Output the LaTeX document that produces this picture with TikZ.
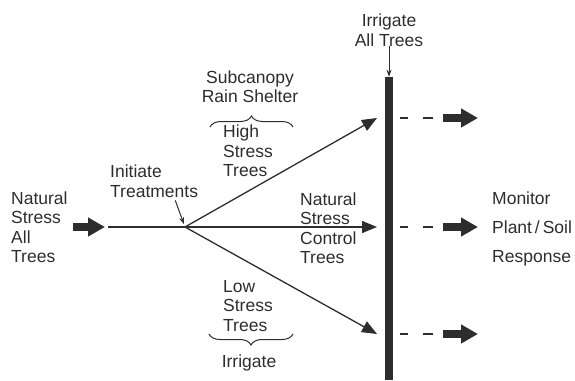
\documentclass[tikz,border=0pt]{standalone}
\usepackage{fontspec}
\setmainfont{Liberation Sans}
\usetikzlibrary{arrows.meta,decorations.pathreplacing}
\definecolor{ink}{RGB}{45,45,45}
\tikzset{
    txt/.style={inner sep=0pt, align=left, text=ink, font=\fontsize{17.5}{19.5}\selectfont},
    fat/.style={ink, line width=7.5pt, -{Triangle[length=17pt,width=18pt]}},
    ray/.style={ink, line width=1.3pt, -{Triangle[length=15pt,width=12pt]}},
    pointer/.style={ink, line width=1pt, -{Stealth[length=7pt,width=5pt]}},
    curly/.style={ink, line width=1pt, decorate, decoration={brace, amplitude=11pt}},
    dashes/.style={ink, line width=2pt, dash pattern=on 8pt off 15pt on 10pt off 10pt}
}

\begin{document}
\begin{tikzpicture}[x=1pt, y=-1pt]
    \useasboundingbox (0,0) rectangle (575,380);

    % text blocks
    \node[txt, anchor=west] (natural) at (11,227) {Natural\\Stress\\All\\Trees};
    \node[txt, anchor=west] (initiate) at (110,181) {Initiate\\Treatments};
    \node[txt, align=center] (shelter) at (250,86.5) {Subcanopy\\Rain Shelter};
    \node[txt, anchor=west] (high) at (223,151) {High\\Stress\\Trees};
    \node[txt, anchor=west] (control) at (300,228) {Natural\\Stress\\Control\\Trees};
    \node[txt, anchor=west] (low) at (223,306) {Low\\Stress\\Trees};
    \node[txt] (irrigate) at (249,363) {Irrigate};
    \node[txt, align=center] (irrall) at (389,30) {Irrigate\\All Trees};
    \node[txt, anchor=west] (monitor) at (492,229) {Monitor\\[9.5pt]Plant\,/\,Soil\\[9.5pt]Response};

    % irrigation bar
    \node[fill=ink, inner sep=0pt, minimum width=8pt, minimum height=303pt] (bar) at (389,228.5) {};

    \coordinate (stem) at (108,227);
    \coordinate (fan) at (185,227);
    \coordinate (hi) at (377,118);
    \coordinate (mid) at (377,227);
    \coordinate (lo) at (377,334);

    % treatments
    \draw[fat] ([xshift=5pt]natural.east) -- ([xshift=-3pt]stem);
    \draw[ink, line width=1.3pt] (stem) -- (fan);
    \draw[ray] (fan) -- (hi);
    \draw[ray] (fan) -- (mid);
    \draw[ray] (fan) -- (lo);
    \draw[pointer, shorten >=3pt] ([xshift=-23pt,yshift=-3pt]initiate.south east) -- (fan);
    \draw[pointer] (irrall) -- (bar);

    \draw[curly] (210,127) -- (293,127);
    \draw[curly] (293,334) -- (209,334);

    % response
    \draw[dashes] ([xshift=23pt]hi) -- ([xshift=56pt]hi);
    \draw[fat] ([xshift=66pt]hi) -- ([xshift=101pt]hi);
    \draw[dashes] ([xshift=23pt]mid) -- ([xshift=56pt]mid);
    \draw[fat] ([xshift=66pt]mid) -- ([xshift=101pt]mid);
    \draw[dashes] ([xshift=23pt]lo) -- ([xshift=56pt]lo);
    \draw[fat] ([xshift=66pt]lo) -- ([xshift=101pt]lo);
\end{tikzpicture}
\end{document}
